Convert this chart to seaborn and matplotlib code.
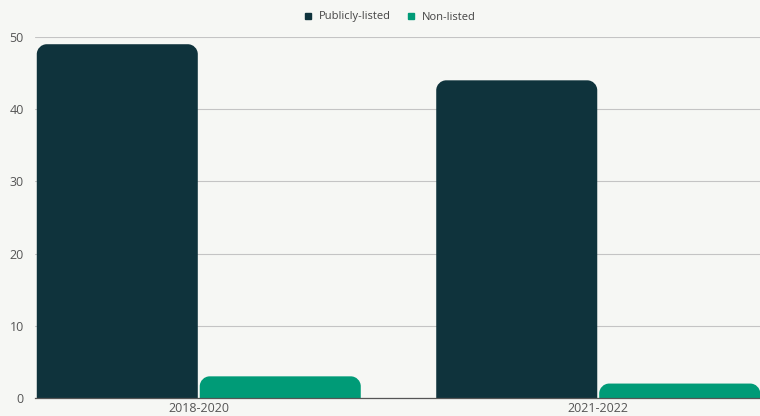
import matplotlib
matplotlib.use("Agg")
import matplotlib.pyplot as plt
import seaborn as sns
import pandas as pd
from matplotlib.path import Path
from matplotlib.patches import PathPatch
from matplotlib.lines import Line2D

categories = ["2018-2020", "2021-2022"]
series = ["Publicly-listed", "Non-listed"]
publicly_listed = [49, 44]
non_listed = [3, 2]
colors = ["#0f333c", "#009b77"]
yticks = [0, 10, 20, 30, 40, 50]

df = pd.DataFrame({
    "period": categories * 2,
    "type": [series[0]] * 2 + [series[1]] * 2,
    "value": publicly_listed + non_listed,
})

sns.set_theme(style="white")
plt.rcParams['font.family'] = ['Open Sans', 'DejaVu Sans']
bg = "#f6f7f4"
fig = plt.figure(figsize=(7.6, 4.16), dpi=100, facecolor=bg)
ax = fig.add_axes([35 / 760, 18 / 416, 725 / 760, 361 / 416])
ax.set_facecolor(bg)

sns.barplot(data=df, x="period", y="value", hue="type", hue_order=series,
            palette=colors, width=0.816, gap=0.012, ax=ax, legend=False,
            saturation=1)

ax.set_ylim(0, 50)
ax.set_xlim(-0.41, 1.405)

# rounded top corners
rx_px, ry_px = 10, 10
px_per_x = 725 / (1.405 + 0.41)
px_per_y = 361 / 50
rx = rx_px / px_per_x
ry = ry_px / px_per_y
k = 0.5523
for p in list(ax.patches):
    x0, y0 = p.get_x(), p.get_y()
    w, h = p.get_width(), p.get_height()
    fc = p.get_facecolor()
    p.remove()
    x1, y1 = x0 + w, y0 + h
    r_y = min(ry, h)
    verts = [
        (x0, y0),
        (x0, y1 - r_y),
        (x0, y1 - r_y + k * r_y), (x0 + rx - k * rx, y1), (x0 + rx, y1),
        (x1 - rx, y1),
        (x1 - rx + k * rx, y1), (x1, y1 - r_y + k * r_y), (x1, y1 - r_y),
        (x1, y0),
        (x0, y0),
    ]
    codes = [Path.MOVETO, Path.LINETO,
             Path.CURVE4, Path.CURVE4, Path.CURVE4,
             Path.LINETO,
             Path.CURVE4, Path.CURVE4, Path.CURVE4,
             Path.LINETO, Path.CLOSEPOLY]
    ax.add_patch(PathPatch(Path(verts, codes), facecolor=fc, edgecolor="none",
                           zorder=3))

ax.set_yticks(yticks)
ax.yaxis.grid(True, color="#c4c4c4", linewidth=0.8, zorder=0)
ax.set_axisbelow(True)
for s in ["top", "right", "left"]:
    ax.spines[s].set_visible(False)
ax.spines["bottom"].set_color("#555555")
ax.spines["bottom"].set_linewidth(0.9)
ax.spines["bottom"].set_zorder(4)
ax.tick_params(axis="both", length=0, labelsize=9, labelcolor="#555555")
ax.tick_params(axis="y", pad=8)
ax.tick_params(axis="x", pad=3)
ax.set_xlabel("")
ax.set_ylabel("")

handles = [Line2D([], [], marker="s", linestyle="none", markersize=4.5,
                  markerfacecolor=c, markeredgecolor=c) for c in colors]
fig.legend(handles, series, loc="center", bbox_to_anchor=(389 / 760, 1 - 17 / 416),
           ncol=2, frameon=False, fontsize=8, labelcolor="#444444",
           handletextpad=0.45, columnspacing=1.3, handlelength=1.0)

fig.savefig("out.png", dpi=100, facecolor=bg)
